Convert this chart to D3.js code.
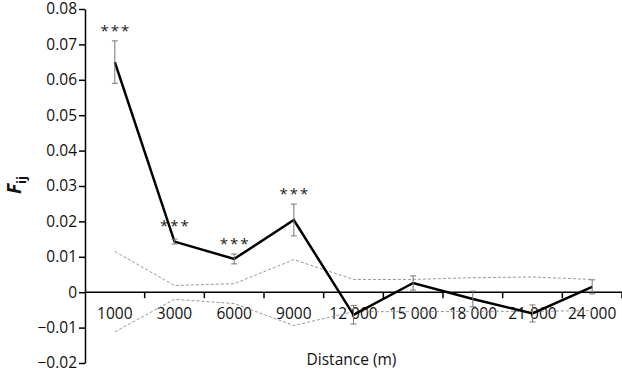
<!DOCTYPE html>
<html>
<head>
<meta charset="utf-8">
<script src="https://cdn.jsdelivr.net/npm/d3@7"></script>
<style>
body { margin: 0; background: #fff; }
svg text { font-family: "Open Sans", sans-serif; }
</style>
</head>
<body>
<svg id="chart" width="622" height="372"></svg>
<script>
// categories and values
var distances = ["1000", "3000", "6000", "9000", "12 000", "15 000", "18 000", "21 000", "24 000"];
var fij = [0.065, 0.0143, 0.0094, 0.0204, -0.0064, 0.0026, -0.0019, -0.006, 0.0015];
var fijErr = [0.006, 0.0007, 0.0014, 0.0045, 0.0026, 0.002, 0.0022, 0.0024, 0.002];
var upperCI = [0.0115, 0.0019, 0.0024, 0.0092, 0.0036, 0.0036, 0.0041, 0.0043, 0.0036];
var lowerCI = [-0.0112, -0.002, -0.0032, -0.0094, -0.0055, -0.0055, -0.0054, -0.0054, -0.0052];
var signif = ["***", "***", "***", "***", "", "", "", "", ""];
var yTicks = [-0.02, -0.01, 0, 0.01, 0.02, 0.03, 0.04, 0.05, 0.06, 0.07, 0.08];

var svg = d3.select("#chart");
var margin = {top: 9, right: 0, bottom: 9, left: 85};
var width = 622 - margin.left - margin.right;
var height = 372 - margin.top - margin.bottom;

var g = svg.append("g")
    .attr("transform", "translate(" + margin.left + "," + margin.top + ")");

var x = d3.scaleBand().domain(distances).range([0, width]);
var y = d3.scaleLinear().domain([-0.02, 0.08]).range([height, 0]);

function cx(d) { return x(d) + x.bandwidth() / 2; }

// y axis
var yAxis = g.append("g")
    .call(d3.axisLeft(y).tickValues(yTicks).tickSize(6).tickSizeOuter(0)
        .tickFormat(function(d) { return d === 0 ? "0" : d3.format(".2f")(d).replace("-", "\u2212"); }));
yAxis.select(".domain").attr("stroke-width", 1.5);
yAxis.selectAll(".tick line").attr("stroke-width", 1.5);
yAxis.selectAll("text").attr("font-size", 15.5).attr("x", -8).attr("fill", "#111");

// x axis at zero, ticks between categories
var xAxis = g.append("g")
    .attr("transform", "translate(0," + y(0) + ")");
xAxis.append("line")
    .attr("x1", 0).attr("x2", width)
    .attr("stroke", "#000").attr("stroke-width", 1.5);
xAxis.selectAll(".xtick")
    .data(distances.slice(1).concat(["end"]))
    .enter().append("line")
    .attr("class", "xtick")
    .attr("x1", function(d, i) { return x.bandwidth() * (i + 1); })
    .attr("x2", function(d, i) { return x.bandwidth() * (i + 1); })
    .attr("y1", 0).attr("y2", 6)
    .attr("stroke", "#000").attr("stroke-width", 1.5);
xAxis.selectAll(".xlab")
    .data(distances)
    .enter().append("text")
    .attr("class", "xlab")
    .attr("x", cx)
    .attr("y", 27)
    .attr("text-anchor", "middle")
    .attr("font-size", 15.5)
    .attr("fill", "#111")
    .text(function(d) { return d; });

// confidence envelope
var line = d3.line()
    .x(function(d, i) { return cx(distances[i]); })
    .y(function(d) { return y(d); });

[upperCI, lowerCI].forEach(function(arr) {
    g.append("path")
        .datum(arr)
        .attr("d", line)
        .attr("fill", "none")
        .attr("stroke", "#999")
        .attr("stroke-width", 1)
        .attr("stroke-dasharray", "3,2");
});

// main line
g.append("path")
    .datum(fij)
    .attr("d", line)
    .attr("fill", "none")
    .attr("stroke", "#000")
    .attr("stroke-width", 2.5);

// error bars
var eb = g.selectAll(".err")
    .data(fij)
    .enter().append("g")
    .attr("class", "err")
    .attr("stroke", "#777")
    .attr("stroke-width", 1);
eb.append("line")
    .attr("x1", function(d, i) { return cx(distances[i]); })
    .attr("x2", function(d, i) { return cx(distances[i]); })
    .attr("y1", function(d, i) { return y(d + fijErr[i]); })
    .attr("y2", function(d, i) { return y(d - fijErr[i]); });
[1, -1].forEach(function(s) {
    eb.append("line")
        .attr("x1", function(d, i) { return cx(distances[i]) - 3; })
        .attr("x2", function(d, i) { return cx(distances[i]) + 3; })
        .attr("y1", function(d, i) { return y(d + s * fijErr[i]); })
        .attr("y2", function(d, i) { return y(d + s * fijErr[i]); });
});

// significance stars
g.selectAll(".star")
    .data(signif)
    .enter().append("text")
    .attr("class", "star")
    .attr("x", function(d, i) { return cx(distances[i]) + 1; })
    .attr("y", function(d, i) { return y(fij[i] + fijErr[i]) - (i === 1 ? 8 : 5); })
    .attr("text-anchor", "middle")
    .attr("font-family", "DejaVu Sans")
    .attr("font-size", 15)
    .attr("letter-spacing", 2)
    .attr("fill", "#222")
    .text(function(d) { return d; });

// axis titles
svg.append("text")
    .attr("x", margin.left + width / 2 - 2)
    .attr("y", 365)
    .attr("text-anchor", "middle")
    .attr("font-size", 15.5)
    .attr("fill", "#111")
    .text("Distance (m)");

var yt = svg.append("text")
    .attr("transform", "translate(21,185) rotate(-90)")
    .attr("text-anchor", "middle")
    .attr("font-size", 19)
    .attr("font-weight", "bold")
    .attr("fill", "#111");
yt.append("tspan").attr("font-style", "italic").text("F");
yt.append("tspan").attr("font-size", 13).attr("dy", 5).text("ij");
</script>
</body>
</html>
